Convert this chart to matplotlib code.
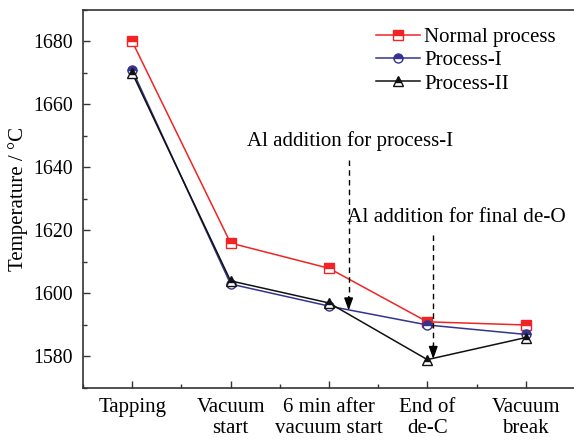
import matplotlib.pyplot as plt
from matplotlib.ticker import AutoMinorLocator, MultipleLocator

plt.rcParams["font.family"] = ["Liberation Serif", "DejaVu Serif"]
plt.rcParams["mathtext.fontset"] = "stix"

stages = ["Tapping", "Vacuum\nstart", "6 min after\nvacuum start", "End of\nde-C", "Vacuum\nbreak"]
normal = [1680, 1616, 1608, 1591, 1590]
process_1 = [1671, 1603, 1596, 1590, 1587]
process_2 = [1670, 1604, 1597, 1579, 1586]

series = [
    ("Normal process", normal, "#f02424", "s"),
    ("Process-I", process_1, "#34348f", "o"),
    ("Process-II", process_2, "#111111", "^"),
]

fs = 15

fig = plt.figure(figsize=(5.74, 4.43), dpi=100)
ax = fig.add_axes([0.1446, 0.1242, 0.857, 0.8533])

x = range(len(stages))
for label, vals, color, marker in series:
    ax.plot(x, vals, color=color, lw=1.1, marker=marker, ms=6.5,
            fillstyle="top", markerfacecolor=color, markerfacecoloralt="white",
            markeredgecolor=color, markeredgewidth=1.0, label=label)

ax.set_xlim(-0.5, 4.5)
ax.set_ylim(1570, 1690)
ax.set_xticks(list(x))
ax.set_xticklabels(stages, linespacing=1.12, fontsize=fs)
ax.yaxis.set_major_locator(MultipleLocator(20))
ax.yaxis.set_minor_locator(AutoMinorLocator(2))
ax.xaxis.set_minor_locator(MultipleLocator(0.5))
ax.tick_params(which="both", direction="in", colors="#333333",
               labelcolor="black", right=False, top=False)
ax.tick_params(which="major", length=5, width=1)
ax.tick_params(which="minor", length=3, width=1)
ax.tick_params(axis="x", pad=7.5)
ax.tick_params(axis="y", pad=7, labelsize=14.3)
for side in ax.spines.values():
    side.set_color("#333333")
    side.set_linewidth(1.2)

ax.set_ylabel("Temperature / °C", fontsize=fs, labelpad=4)

# dashed guides marking when Al is added
ax.plot([2.20, 2.20], [1642.5, 1598], ls=(0, (4, 3)), color="black", lw=1.0)
ax.annotate("", xy=(2.20, 1594.6), xytext=(2.20, 1599),
            arrowprops=dict(arrowstyle="-|>,head_length=0.75,head_width=0.27",
                            color="black", lw=1.0, shrinkA=0, shrinkB=0))
ax.text(2.21, 1648.5, "Al addition for process-I", fontsize=fs,
        ha="center", va="center")

ax.plot([3.06, 3.06], [1618.5, 1583], ls=(0, (4, 3)), color="black", lw=1.0)
ax.annotate("", xy=(3.06, 1579.2), xytext=(3.06, 1583.5),
            arrowprops=dict(arrowstyle="-|>,head_length=0.75,head_width=0.27",
                            color="black", lw=1.0, shrinkA=0, shrinkB=0))
ax.text(2.18, 1624, "Al addition for final de-O", fontsize=15.3,
        ha="left", va="center")

ax.legend(loc="upper left", bbox_to_anchor=(0.655, 0.938),
          bbox_transform=fig.transFigure, frameon=False, fontsize=fs,
          handlelength=2.1, handletextpad=0.2, labelspacing=0.18,
          borderpad=0, borderaxespad=0)

fig.savefig("out.png", dpi=100)
